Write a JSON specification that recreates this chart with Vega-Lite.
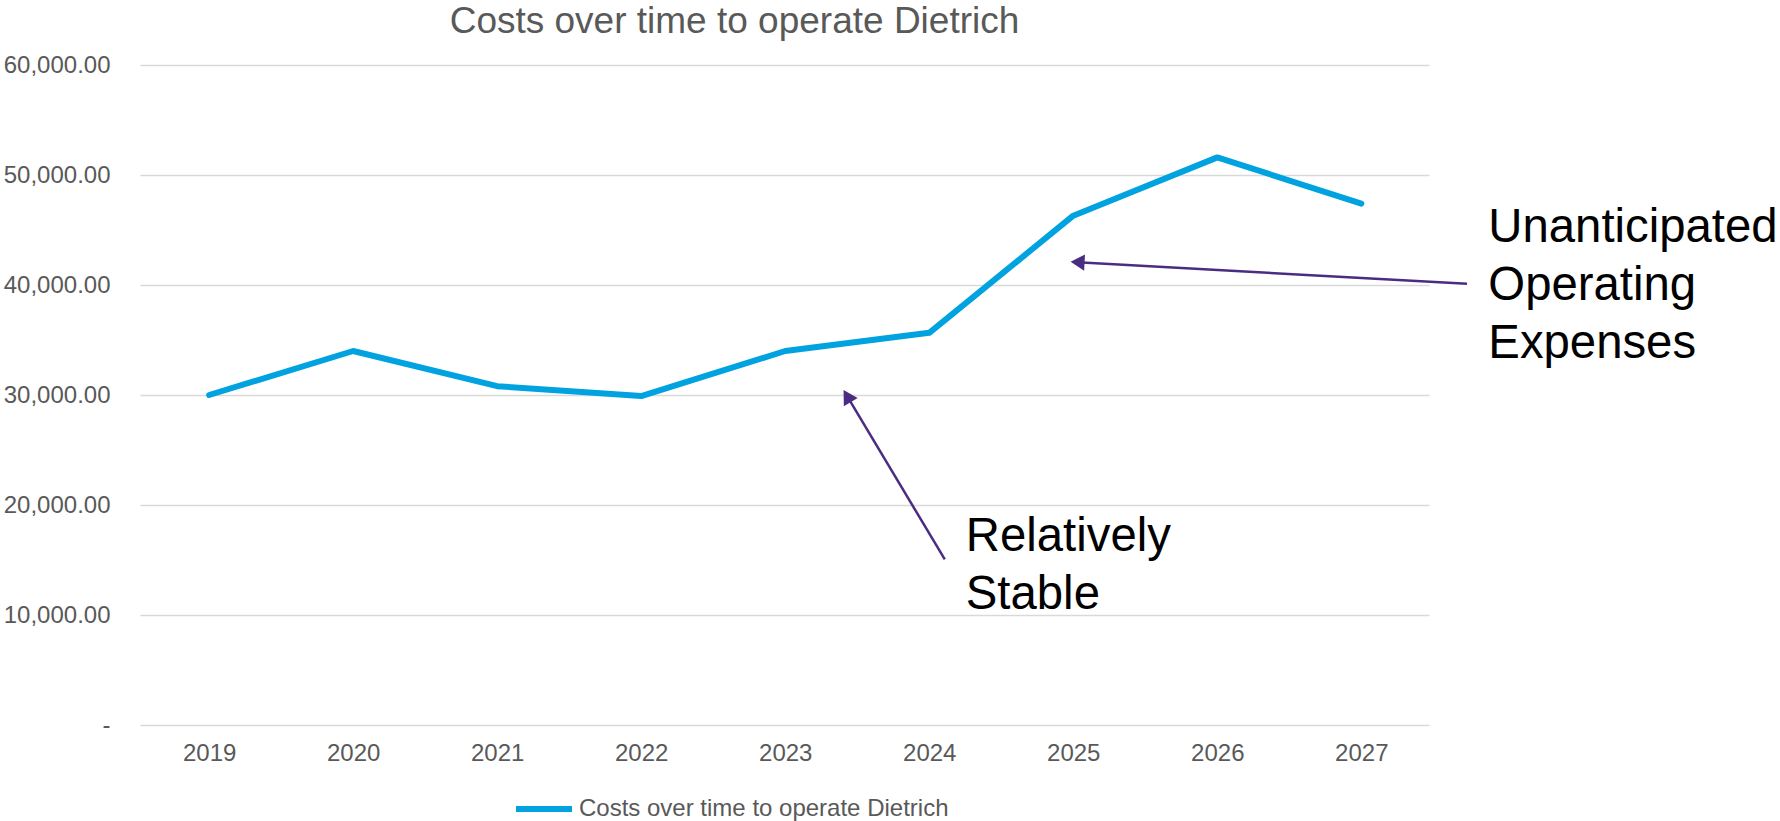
{
  "$schema": "https://vega.github.io/schema/vega-lite/v6.json",
  "autosize": {"type": "none"},
  "padding": {"left": 140, "top": 65, "right": 351, "bottom": 96},
  "width": 1289,
  "height": 660,
  "background": "white",
  "config": {"font": "Liberation Sans", "view": {"stroke": null}},
  "title": {
    "text": "Costs over time to operate Dietrich",
    "fontSize": 37,
    "font": "Liberation Sans",
    "fontWeight": "normal",
    "color": "#595959",
    "anchor": "middle",
    "frame": "group",
    "dx": -50,
    "offset": -17,
    "baseline": "alphabetic"
  },
  "datasets": {
    "costs": [
      {"year": 2019, "cost": 30000, "series": "Costs over time to operate Dietrich"},
      {"year": 2020, "cost": 34000, "series": "Costs over time to operate Dietrich"},
      {"year": 2021, "cost": 30800, "series": "Costs over time to operate Dietrich"},
      {"year": 2022, "cost": 29900, "series": "Costs over time to operate Dietrich"},
      {"year": 2023, "cost": 34000, "series": "Costs over time to operate Dietrich"},
      {"year": 2024, "cost": 35650, "series": "Costs over time to operate Dietrich"},
      {"year": 2025, "cost": 46300, "series": "Costs over time to operate Dietrich"},
      {"year": 2026, "cost": 51600, "series": "Costs over time to operate Dietrich"},
      {"year": 2027, "cost": 47400, "series": "Costs over time to operate Dietrich"}
    ],
    "arrows": [
      {"name": "stable", "x1": 2024.108, "y1": 15050, "x2": 2023.43, "y2": 29900},
      {"name": "unanticipated", "x1": 2027.734, "y1": 40109, "x2": 2025.03, "y2": 42071}
    ],
    "notes": [
      {"x": 2024.254, "y": 15840, "label": ["Relatively", "Stable"]},
      {"x": 2027.882, "y": 43933, "label": ["Unanticipated", "Operating", "Expenses"]}
    ]
  },
  "layer": [
    {
      "data": {"name": "costs"},
      "mark": {"type": "line", "strokeWidth": 6, "strokeCap": "round", "strokeJoin": "round"},
      "encoding": {
        "x": {
          "field": "year", "type": "quantitative", "title": null,
          "scale": {"domain": [2018.52, 2027.47], "nice": false, "zero": false},
          "axis": {
            "values": [2019, 2020, 2021, 2022, 2023, 2024, 2025, 2026, 2027],
            "format": "d", "grid": false, "domain": false, "ticks": false, "tickSize": 0,
            "labelFontSize": 24, "labelColor": "#595959", "labelPadding": 16,
            "labelFont": "Liberation Sans"
          }
        },
        "y": {
          "field": "cost", "type": "quantitative", "title": null,
          "scale": {"domain": [0, 60000], "nice": false},
          "axis": {
            "values": [0, 10000, 20000, 30000, 40000, 50000, 60000],
            "labelExpr": "datum.value === 0 ? '-\u2002' : format(datum.value, ',.2f')",
            "grid": true, "gridColor": "#D9D9D9", "gridWidth": 1.5,
            "domain": false, "ticks": false, "tickSize": 0,
            "labelFontSize": 24, "labelColor": "#595959", "labelPadding": 30,
            "labelFont": "Liberation Sans"
          }
        },
        "color": {
          "field": "series", "type": "nominal",
          "scale": {"range": ["#00A3E0"]},
          "legend": {
            "orient": "none", "legendX": 373, "legendY": 713, "title": null,
            "direction": "horizontal",
            "labelFontSize": 24, "labelColor": "#595959", "labelFont": "Liberation Sans",
            "labelLimit": 0,
            "symbolType": "stroke", "symbolStrokeWidth": 6, "symbolSize": 3136,
            "labelOffset": 4
          }
        }
      }
    },
    {
      "data": {"name": "arrows"},
      "mark": {"type": "rule", "color": "#4B2C83", "strokeWidth": 2.5},
      "encoding": {
        "x": {"field": "x1", "type": "quantitative", "title": null, "scale": {"domain": [2018.52, 2027.47], "nice": false, "zero": false}},
        "y": {"field": "y1", "type": "quantitative", "title": null, "scale": {"domain": [0, 60000], "nice": false}},
        "x2": {"field": "x2"},
        "y2": {"field": "y2"}
      }
    },
    {
      "data": {"name": "arrows"},
      "transform": [{"filter": "datum.name === 'stable'"}],
      "mark": {"type": "point", "shape": "triangle-up", "angle": 329, "filled": true, "size": 260, "color": "#4B2C83", "opacity": 1},
      "encoding": {
        "x": {"field": "x2", "type": "quantitative", "title": null, "scale": {"domain": [2018.52, 2027.47], "nice": false, "zero": false}},
        "y": {"field": "y2", "type": "quantitative", "title": null, "scale": {"domain": [0, 60000], "nice": false}}
      }
    },
    {
      "data": {"name": "arrows"},
      "transform": [{"filter": "datum.name === 'unanticipated'"}],
      "mark": {"type": "point", "shape": "triangle-up", "angle": 273, "filled": true, "size": 260, "color": "#4B2C83", "opacity": 1},
      "encoding": {
        "x": {"field": "x2", "type": "quantitative", "title": null, "scale": {"domain": [2018.52, 2027.47], "nice": false, "zero": false}},
        "y": {"field": "y2", "type": "quantitative", "title": null, "scale": {"domain": [0, 60000], "nice": false}}
      }
    },
    {
      "data": {"name": "notes"},
      "mark": {"type": "text", "align": "left", "baseline": "alphabetic", "fontSize": 47.3, "lineHeight": 58, "color": "#000000", "font": "Liberation Sans"},
      "encoding": {
        "x": {"field": "x", "type": "quantitative", "title": null, "scale": {"domain": [2018.52, 2027.47], "nice": false, "zero": false}},
        "y": {"field": "y", "type": "quantitative", "title": null, "scale": {"domain": [0, 60000], "nice": false}},
        "text": {"field": "label"}
      }
    }
  ]
}
